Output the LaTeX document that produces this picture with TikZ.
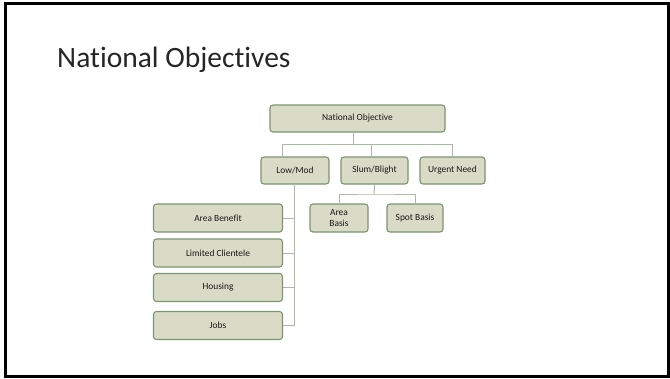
\documentclass[tikz,border=0pt]{standalone}
\usepackage{fontspec}
\setmainfont[Ligatures=NoCommon]{Carlito}
\usetikzlibrary{backgrounds}
\definecolor{boxfill}{HTML}{D9DBC6}
\definecolor{boxline}{HTML}{7C9470}
\definecolor{connc}{HTML}{A9BBA2}
\definecolor{titlec}{HTML}{262626}
\begin{document}
\begin{tikzpicture}[x=1pt,y=-1pt,
  box/.style={draw=boxline, fill=boxfill, line width=1.1pt, rounded corners=3pt,
    font=\fontsize{9.4}{11.5}\selectfont, text=black!90, inner sep=0pt, align=center},
  conn/.style={draw=connc, line width=1pt}]
\useasboundingbox (0,0) rectangle (670,378);
\draw[line width=3pt] (5.8,3.3) rectangle (668.5,376);
\node[anchor=base west, inner sep=0pt, text=titlec, font=\fontsize{29.5}{36}\selectfont] (title) at (57,67) {National Objectives};
\node[box, minimum width=175pt, minimum height=27pt] (no) at (357.5,118.5) {National Objective};
\node[box, minimum width=68pt, minimum height=27pt] (lm) at (295,170.5) {Low/Mod};
\node[box, minimum width=67pt, minimum height=27pt] (sb) at (374.5,170.5) {Slum/Blight};
\node[box, minimum width=65pt, minimum height=27pt] (un) at (452.5,170.5) {Urgent Need};
\node[box, minimum width=129pt, minimum height=28pt] (ab) at (218,218) {Area Benefit};
\node[box, minimum width=129pt, minimum height=28pt] (lc) at (218,253) {Limited Clientele};
\node[box, minimum width=129pt, minimum height=28pt] (ho) at (218,287.5) {Housing};
\node[box, minimum width=129pt, minimum height=28pt] (jo) at (218,325.5) {Jobs};
\node[box, minimum width=58pt, minimum height=28pt] (ar) at (339,218) {Area\\Basis};
\node[box, minimum width=56pt, minimum height=28pt] (sp) at (415,218) {Spot Basis};
\coordinate (bar) at (353,144.5);
\coordinate (bar2) at (374,194);
\coordinate (lmt) at ([xshift=-13pt]lm.north);
\coordinate (sbt) at ([xshift=-3.5pt]sb.north);
\coordinate (unt) at ([xshift=-0.5pt]un.north);
\coordinate (nob) at ([xshift=-4.5pt]no.south);
\coordinate (lmb) at ([xshift=-1pt]lm.south);
\begin{scope}[on background layer]
\draw[conn] (nob) -- (bar);
\draw[conn] (lmt) |- (bar) -| (unt);
\draw[conn] (bar -| sbt) -- (sbt);
\draw[conn] (sb.south) -- (bar2);
\draw[conn] (ar.north) |- (bar2) -| (sp.north);
\draw[conn] (lmb) |- (jo.east);
\draw[conn] (ab.east) -- (ab.east -| lmb);
\draw[conn] (lc.east) -- (lc.east -| lmb);
\draw[conn] (ho.east) -- (ho.east -| lmb);
\end{scope}
\end{tikzpicture}
\end{document}
